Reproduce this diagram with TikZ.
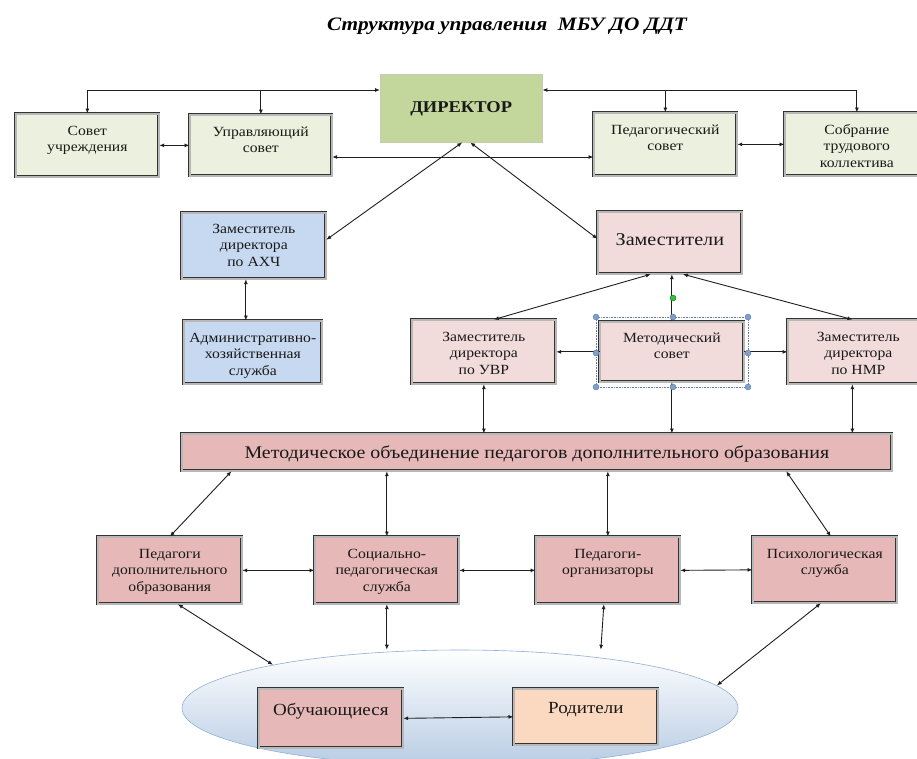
\documentclass[tikz,border=0pt]{standalone}
\usepackage{fontspec}
\setmainfont{Liberation Serif}[FakeStretch=1.12]
\usetikzlibrary{arrows.meta,shapes.geometric,calc}
\definecolor{grn}{HTML}{EBF1DE}
\definecolor{dirg}{HTML}{C3D69B}
\definecolor{blu}{HTML}{C6D9F1}
\definecolor{pnk}{HTML}{F2DCDB}
\definecolor{rose}{HTML}{E6B9B8}
\definecolor{peach}{HTML}{FAD9C0}
\definecolor{ellb}{HTML}{B8CCE4}
\definecolor{ellborder}{HTML}{8EB0D8}
\definecolor{handle}{HTML}{7F9FCF}
\tikzset{
  dbox/.style={draw=black!80, double=black!28, double distance=1.6pt, line width=0.7pt, inner sep=0pt, anchor=north west},
  lbl/.style={inner sep=0pt, anchor=north, align=center, text=black!90},
  >={Latex[length=5pt,width=4pt]},
  con/.style={line width=0.9pt, draw=black!88, <->},
  one/.style={line width=0.9pt, draw=black!88, ->},
}
% name, x1, y1, x2, y2, fill, first baseline offset, font size, text
\newcommand\mybox[9]{%
  \node[dbox, fill=#6, minimum width={(#4-#2-3)*1pt}, minimum height={(#5-#3-3)*1pt}] (#1) at ({#2+1.5},{#3+1.5}) {};
  \node[lbl, font=\fontsize{#8}{16.5}\selectfont] (#1t) at ([yshift={-(#7-0.8*#8-1.5)*1pt}]#1.north) {\rule{0pt}{\dimexpr #8pt*4/5\relax}#9};
}
\begin{document}
\begin{tikzpicture}[x=1pt,y=-1pt]
\fill[white] (0,0) rectangle (917,758);
\useasboundingbox (0,0) rectangle (917,758);

\node[font=\fontsize{19}{22}\selectfont\bfseries\itshape, inner sep=0pt] (title) at (507,26) {Структура управления\ \ МБУ ДО ДДТ};

% ellipse
\node[ellipse, minimum width=556pt, minimum height=116pt, draw=ellborder, line width=0.6pt, top color=white, bottom color=ellb] (ell) at (460,708) {};

% director
\node[draw=dirg!80!black!60, line width=0.4pt, fill=dirg, inner sep=0pt, anchor=north west, minimum width=162pt, minimum height=68pt] (dir) at (380,74) {};
\node[inner sep=0pt, anchor=base, font=\fontsize{16.5}{18}\selectfont\bfseries, text=black!90] (dirt) at ([yshift=-38pt]dir.north) {ДИРЕКТОР};

\mybox{sovet}{14}{112}{160}{178}{grn}{23}{14}{Совет\\учреждения}
\mybox{upr}{188}{113}{333}{177}{grn}{23}{14}{Управляющий\\совет}
\mybox{ped}{592}{111}{738}{177}{grn}{23}{14}{Педагогический\\совет}
\mybox{sobr}{783}{111}{930}{177}{grn}{23}{14}{Собрание\\трудового\\коллектива}

\mybox{axch}{180}{211}{327}{280}{blu}{22}{14}{Заместитель\\директора\\по АХЧ}
\mybox{ahs}{182}{319}{323}{385}{blu}{23}{14}{Административно-\\хозяйственная\\служба}

\mybox{zam}{596}{210}{743}{275}{pnk}{35}{18}{Заместители}
\mybox{uvr}{410}{318}{557}{385}{pnk}{23}{14}{Заместитель\\директора\\по УВР}
\mybox{metsov}{598}{320}{745}{383}{pnk}{22}{14}{Методический\\совет}
\mybox{nmr}{786}{318}{930}{385}{pnk}{23}{14}{Заместитель\\директора\\по НМР}

\mybox{mo}{180}{432}{893}{472}{rose}{26}{17.8}{Методическое объединение педагогов дополнительного образования}

\mybox{pdo}{96}{535}{243}{605}{rose}{23}{14}{Педагоги\\дополнительного\\образования}
\mybox{soc}{313}{535}{460}{605}{rose}{23}{14}{Социально-\\педагогическая\\служба}
\mybox{org}{534}{535}{681}{605}{rose}{23}{14}{Педагоги-\\организаторы}
\mybox{psy}{751}{535}{898}{604}{rose}{23}{14}{Психологическая\\служба}

\mybox{obuch}{257}{687}{404}{749}{rose}{28}{17}{Обучающиеся}
\mybox{rod}{512}{687}{659}{746}{peach}{26}{17}{Родители}

% connectors
\coordinate (ytop) at (0,90);
\coordinate (ymid) at (0,157);
\draw[con] (sovet.north) |- (dir.west |- ytop);
\draw[one] (upr.north |- ytop) -- (upr.north);
\draw[con] (dir.east |- ytop) -| (sobr.north);
\draw[one] (ped.north |- ytop) -- (ped.north);
\draw[con] (sovet.east) -- (upr.west);
\draw[con] (ped.east) -- (sobr.west);
\draw[con] (upr.east |- ymid) -- (ped.west |- ymid);
\draw[con] ([xshift=1pt]dir.south) -- ([yshift=6pt]axch.east);
\draw[con] ([xshift=9pt]dir.south) -- ([yshift=4pt]zam.west);
\draw[con] ([xshift=-8pt]axch.south) -- ([xshift=-8pt]axch.south |- ahs.north);
\draw[con] ([xshift=-19pt]zam.south) -- ([xshift=10pt]uvr.north);
\draw[con] ([xshift=13pt]zam.south) -- ([xshift=-6pt]nmr.north);
\draw[con] (zam.south -| metsov.north) -- (metsov.north);
\draw[one] (metsov.west) -- (uvr.east);
\draw[one] (metsov.east) -- (nmr.west);
\draw[con] (uvr.south) -- (uvr.south |- mo.north);
\draw[con] (metsov.south) -- (metsov.south |- mo.north);
\draw[con] ([xshift=-6pt]nmr.south) -- ([xshift=-6pt]nmr.south |- mo.north);
\draw[con] ([xshift=50pt]mo.south west) -- (pdo.north);
\draw[con] (soc.north |- mo.south) -- (soc.north);
\draw[con] (org.north |- mo.south) -- (org.north);
\draw[con] ([xshift=-106pt]mo.south east) -- ([xshift=6pt]psy.north);
\draw[con] (pdo.east) -- (soc.west);
\draw[con] (soc.east) -- (org.west);
\draw[con] (org.east) -- (psy.west);
\draw[con] ([xshift=8pt]pdo.south) -- (ell.167);
\draw[con] (soc.south) -- (soc.south |- ell.north);
\draw[con] ([xshift=-4pt]org.south) -- ([xshift=-7pt]org.south |- ell.north);
\draw[con] ([xshift=-4pt]psy.south) -- (ell.5.5);
\draw[con] (obuch.east) -- (rod.west);

% selection handles around Методический совет
\draw[densely dotted, draw=handle!80!black, line width=0.6pt] (596,317) rectangle (748,387);
\foreach \hx/\hy in {596/317,673/317,748/317,596/353,748/353,596/387,673/387,748/387}
  \fill[handle, draw=handle!70!black, line width=0.3pt] (\hx,\hy) circle (3pt);
\fill[green!70!black!80, draw=green!40!black, line width=0.3pt] (673,298) circle (3pt);
\end{tikzpicture}
\end{document}
